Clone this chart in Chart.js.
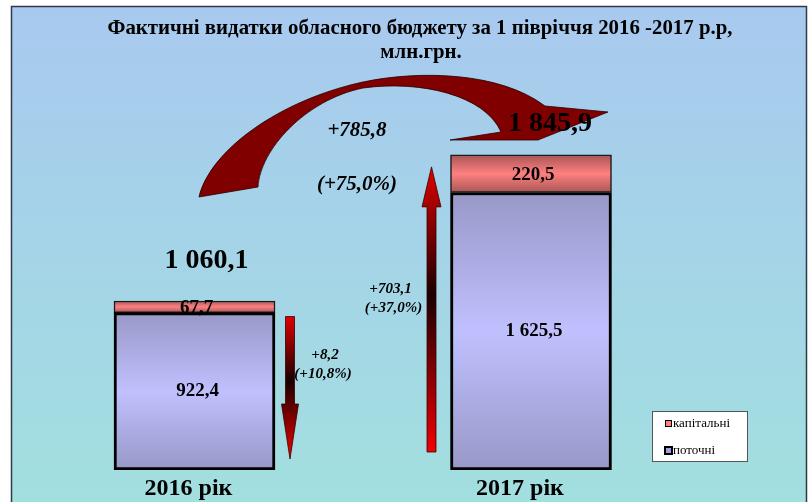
<!DOCTYPE html>
<html>
<head>
<meta charset="utf-8">
<script src="https://cdn.jsdelivr.net/npm/chart.js@4/dist/chart.umd.min.js"></script>
<style>
    html, body { margin: 0; padding: 0; background: #ffffff; }
    #wrap { width: 812px; height: 502px; position: relative; }
</style>
</head>
<body>
<div id="wrap"><canvas id="chart" width="812" height="502"></canvas></div>
<script>
// data
var categories = ['2016 рік', '2017 рік'];
var seriesNames = ['поточні', 'капітальні'];
var currentValues = [922.4, 1625.5];
var capitalValues = [67.7, 220.5];
var totalLabels = ['1 060,1', '1 845,9'];
var stepLabels = [['+8,2', '(+10,8%)'], ['+703,1', '(+37,0%)']];
var growthLabels = ['+785,8', '(+75,0%)'];
var titleLines = ['Фактичні видатки обласного бюджету за 1 півріччя 2016 -2017 р.р,', 'млн.грн.'];

var SERIF = '"Liberation Serif", "DejaVu Serif", serif';

function fmt(v) {
    var parts = v.toFixed(1).split('.');
    var int = parts[0].replace(/\B(?=(\d{3})+(?!\d))/g, ' ');
    return int + ',' + parts[1];
}

// vertical shading of a bar segment, like the office 3d fill
function barFill(dsIndex, mid, edge) {
    return function (ctx) {
        var chart = ctx.chart;
        if (!chart.chartArea || ctx.type !== 'data') return mid;
        var i = ctx.dataIndex;
        var lo = dsIndex === 0 ? 0 : currentValues[i];
        var hi = dsIndex === 0 ? currentValues[i] : currentValues[i] + capitalValues[i];
        var top = chart.scales.y.getPixelForValue(hi);
        var bottom = chart.scales.y.getPixelForValue(lo);
        if (bottom - top < 2) return mid;
        var g = chart.ctx.createLinearGradient(0, top, 0, bottom);
        g.addColorStop(0, edge);
        g.addColorStop(0.5, mid);
        g.addColorStop(1, edge);
        return g;
    };
}

function arrowFill(c, x, y0, y1) {
    var g = c.createLinearGradient(0, y0, 0, y1);
    g.addColorStop(0, '#e00000');
    g.addColorStop(0.45, '#1a0000');
    g.addColorStop(1, '#f00000');
    return g;
}

// straight arrow, tipY may be above or below tailY
function drawArrow(c, x, tailY, headY, tipY, shaftW, headW) {
    c.save();
    c.beginPath();
    c.moveTo(x - shaftW / 2, tailY);
    c.lineTo(x - shaftW / 2, headY);
    c.lineTo(x - headW / 2, headY);
    c.lineTo(x, tipY);
    c.lineTo(x + headW / 2, headY);
    c.lineTo(x + shaftW / 2, headY);
    c.lineTo(x + shaftW / 2, tailY);
    c.closePath();
    c.fillStyle = arrowFill(c, x, Math.min(tailY, tipY), Math.max(tailY, tipY));
    c.fill();
    c.lineWidth = 0.8;
    c.strokeStyle = '#3a0000';
    c.stroke();
    c.restore();
}

var backdrop = {
    id: 'backdrop',
    beforeDraw: function (chart) {
        var c = chart.ctx;
        c.save();
        c.fillStyle = '#ffffff';
        c.fillRect(0, 0, chart.width, chart.height);
        var g = c.createLinearGradient(0, 6, 0, chart.height);
        g.addColorStop(0, '#a8c9ef');
        g.addColorStop(0.45, '#a5d3e8');
        g.addColorStop(1, '#a2dfdf');
        c.fillStyle = g;
        c.fillRect(11, 6, 796, chart.height - 6);
        c.strokeStyle = '#2c3b48';
        c.lineWidth = 1.5;
        c.beginPath();
        c.moveTo(11.5, chart.height);
        c.lineTo(11.5, 6.5);
        c.lineTo(806.5, 6.5);
        c.lineTo(806.5, chart.height);
        c.stroke();

        // title, squeezed like the narrow original face
        c.fillStyle = '#000000';
        c.textAlign = 'center';
        c.textBaseline = 'middle';
        c.font = 'bold 22px ' + SERIF;
        var w = c.measureText(titleLines[0]).width;
        var sx = 625 / w;
        c.save();
        c.translate(420, 28);
        c.scale(sx, 1);
        c.fillText(titleLines[0], 0, 0);
        c.restore();
        c.save();
        c.translate(421, 52);
        c.scale(sx, 1);
        c.fillText(titleLines[1], 0, 0);
        c.restore();
        c.restore();
    }
};

var decorations = {
    id: 'decorations',
    afterDatasetsDraw: function (chart) {
        var c = chart.ctx;
        var cur = chart.getDatasetMeta(0).data;
        var cap = chart.getDatasetMeta(1).data;
        var b0 = cur[0], b1 = cur[1];

        c.save();
        // big curved arrow from 2016 to 2017
        c.beginPath();
        c.moveTo(199, 197);
        c.bezierCurveTo(210, 150, 280, 100, 363, 82);
        c.bezierCurveTo(420, 70, 500, 72, 545, 106);
        c.lineTo(608, 112);
        c.lineTo(538, 140);
        c.lineTo(450, 140);
        c.lineTo(501, 132);
        c.bezierCurveTo(485, 95, 420, 80, 363, 88);
        c.bezierCurveTo(305, 100, 260, 150, 258, 187);
        c.closePath();
        c.fillStyle = '#800000';
        c.fill();
        c.lineWidth = 0.8;
        c.strokeStyle = '#2a0000';
        c.stroke();

        // small arrows next to the bars
        var downX = b0.x + b0.width / 2 + 15;
        drawArrow(c, downX, cap[0].base + 4, b0.base - 66, b0.base - 11, 9, 17);
        var upX = b1.x - b1.width / 2 - 19;
        drawArrow(c, upX, b1.base - 18, cap[1].y + 52, cap[1].y + 12, 9, 19);

        c.fillStyle = '#000000';
        c.textAlign = 'center';
        c.textBaseline = 'middle';

        // value labels inside the segments
        c.font = 'bold 19px ' + SERIF;
        for (var i = 0; i < categories.length; i++) {
            var e = cur[i];
            c.fillText(fmt(currentValues[i]), e.x + 3, (e.y + e.base) / 2);
            var k = cap[i];
            c.fillText(fmt(capitalValues[i]), k.x + 2, (k.y + k.base) / 2 + 1);
        }

        // totals above the bars
        c.font = 'bold 28px ' + SERIF;
        c.fillText(totalLabels[0], cap[0].x + 12, cap[0].y - 40);
        c.fillText(totalLabels[1], cap[1].x + 19, cap[1].y - 31);

        // growth texts inside the arc
        c.font = 'italic bold 21px ' + SERIF;
        c.fillText(growthLabels[0], 357, 131);
        c.fillText(growthLabels[1], 357, 185);

        c.font = 'italic bold 15px ' + SERIF;
        c.fillText(stepLabels[0][0], downX + 35, 355);
        c.fillText(stepLabels[0][1], downX + 33, 374);
        c.fillText(stepLabels[1][0], upX - 41, 289);
        c.fillText(stepLabels[1][1], upX - 38, 308);

        // category labels under the bars
        c.font = 'bold 24px ' + SERIF;
        c.fillText(categories[0], b0.x - 6, 489);
        c.fillText(categories[1], b1.x - 11, 489);

        // legend box
        c.fillStyle = '#ffffff';
        c.fillRect(652.5, 411.5, 95, 50);
        c.strokeStyle = '#555555';
        c.lineWidth = 1;
        c.strokeRect(652.5, 411.5, 95, 50);
        c.fillStyle = '#ff8080';
        c.fillRect(665, 420, 7, 7);
        c.strokeStyle = '#000000';
        c.lineWidth = 1;
        c.strokeRect(665.5, 420.5, 6, 6);
        c.fillStyle = '#000000';
        c.fillRect(664, 446, 9, 9);
        c.fillStyle = '#a0a0e0';
        c.fillRect(666, 448, 5, 5);
        c.fillStyle = '#000000';
        c.font = '13px ' + SERIF;
        c.textAlign = 'left';
        c.fillText(seriesNames[1], 673, 424);
        c.fillText(seriesNames[0], 673, 451);
        c.restore();
    }
};

new Chart(document.getElementById('chart'), {
    type: 'bar',
    data: {
        labels: categories,
        datasets: [
            {
                label: seriesNames[0],
                data: currentValues,
                backgroundColor: barFill(0, '#c0c0ff', '#9898c8'),
                borderColor: '#000000',
                borderWidth: 3,
                borderSkipped: false,
                barThickness: 161
            },
            {
                label: seriesNames[1],
                data: capitalValues,
                backgroundColor: barFill(1, '#ff8080', '#a85656'),
                borderColor: '#1a1a1a',
                borderWidth: 1.5,
                borderSkipped: false,
                barThickness: 161
            }
        ]
    },
    options: {
        responsive: false,
        animation: false,
        devicePixelRatio: 1,
        layout: { padding: { top: 128.6, bottom: 32, left: 26.25, right: 112.75 } },
        scales: {
            x: { stacked: true, display: false },
            y: { stacked: true, display: false, min: 0, max: 2000 }
        },
        plugins: {
            legend: { display: false },
            title: { display: false },
            tooltip: { enabled: false }
        }
    },
    plugins: [backdrop, decorations]
});
</script>
</body>
</html>
